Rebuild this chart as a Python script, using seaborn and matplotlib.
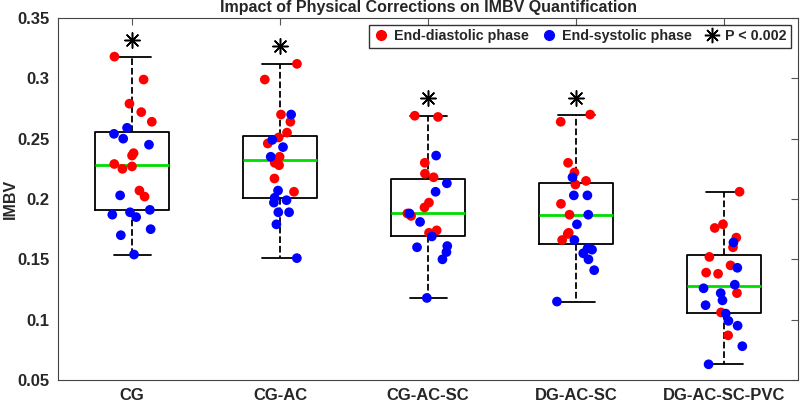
import numpy as np
import pandas as pd
import seaborn as sns
import matplotlib.pyplot as plt
from matplotlib.lines import Line2D

# categories and values
groups = ['CG', 'CG-AC', 'CG-AC-SC', 'DG-AC-SC', 'DG-AC-SC-PVC']

# end-diastolic phase (red)
ed_cg = [0.318, 0.299, 0.279, 0.272, 0.264, 0.238, 0.236, 0.229, 0.225, 0.227, 0.207, 0.202]
ed_cgac = [0.312, 0.299, 0.270, 0.264, 0.255, 0.251, 0.246, 0.235, 0.230, 0.228, 0.217, 0.206]
ed_cgacsc = [0.269, 0.268, 0.230, 0.221, 0.218, 0.197, 0.193, 0.188, 0.186, 0.174, 0.172]
ed_dgacsc = [0.270, 0.264, 0.230, 0.222, 0.215, 0.212, 0.196, 0.187, 0.172, 0.171, 0.166]
ed_pvc = [0.206, 0.176, 0.179, 0.168, 0.160, 0.152, 0.145, 0.139, 0.138, 0.122, 0.106, 0.087]

# end-systolic phase (blue)
es_cg = [0.259, 0.254, 0.250, 0.245, 0.203, 0.189, 0.191, 0.187, 0.185, 0.175, 0.170, 0.154]
es_cgac = [0.270, 0.249, 0.243, 0.235, 0.207, 0.197, 0.199, 0.201, 0.189, 0.189, 0.179, 0.151]
es_cgacsc = [0.236, 0.213, 0.206, 0.188, 0.181, 0.169, 0.160, 0.161, 0.156, 0.150, 0.118]
es_dgacsc = [0.218, 0.203, 0.203, 0.187, 0.179, 0.166, 0.159, 0.158, 0.155, 0.150, 0.141, 0.115]
es_pvc = [0.164, 0.143, 0.129, 0.126, 0.122, 0.116, 0.112, 0.105, 0.099, 0.095, 0.078, 0.063]

# significance markers
sig_groups = ['CG', 'CG-AC', 'CG-AC-SC', 'DG-AC-SC']
sig_vals = [0.332, 0.327, 0.284, 0.284]

ytick_vals = [0.05, 0.1, 0.15, 0.2, 0.25, 0.3, 0.35]
ytick_labels = ['0.05', '0.1', '0.15', '0.2', '0.25', '0.3', '0.35']

ed_phase = 'End-diastolic phase'
es_phase = 'End-systolic phase'

rows = []
for g, ed, es in zip(groups, [ed_cg, ed_cgac, ed_cgacsc, ed_dgacsc, ed_pvc],
                     [es_cg, es_cgac, es_cgacsc, es_dgacsc, es_pvc]):
    for v in ed:
        rows.append((g, ed_phase, v))
    for v in es:
        rows.append((g, es_phase, v))
df = pd.DataFrame(rows, columns=['group', 'phase', 'imbv'])

sns.set_theme(style='white')
plt.rcParams['font.family'] = ['Liberation Sans', 'DejaVu Sans']
plt.rcParams['font.weight'] = 'bold'

fig = plt.figure(figsize=(8, 4.04), dpi=100)
ax = fig.add_axes([58 / 800, 1 - 380 / 404, 740 / 800, 362 / 404])

sns.boxplot(data=df, x='group', y='imbv', order=groups, width=0.5, whis=1.5,
            showfliers=False, fill=False, color='black', linewidth=1.3,
            medianprops=dict(color='#00dd00', linewidth=2),
            whiskerprops=dict(linestyle='--'), ax=ax)

np.random.seed(7)
sns.stripplot(data=df, x='group', y='imbv', hue='phase', order=groups,
              palette={ed_phase: '#ff0000', es_phase: '#0000ff'},
              jitter=0.14, size=7, linewidth=0, legend=False, zorder=3, ax=ax)

sns.stripplot(x=sig_groups, y=sig_vals, order=groups, jitter=False, marker=(8, 2, 0),
              size=11, color='black', edgecolor='black', linewidth=1.1, zorder=4, ax=ax)

ax.set_xlim(-0.5, 4.5)
ax.set_ylim(0.05, 0.35)
ax.set_yticks(ytick_vals)
ax.set_yticklabels(ytick_labels)
ax.set_xlabel('')
ax.set_ylabel('IMBV', fontsize=11.5, fontweight='bold')
ax.yaxis.set_label_coords(-0.054, 0.5)
ax.set_title('Impact of Physical Corrections on IMBV Quantification',
             fontsize=11.5, fontweight='bold', pad=4)
ax.tick_params(direction='in', top=True, right=True, length=5, width=0.8,
               color='#555555', labelsize=12, pad=6)
for lab in ax.get_xticklabels() + ax.get_yticklabels():
    lab.set_fontweight('bold')
for sp in ax.spines.values():
    sp.set_color('#444444')
    sp.set_linewidth(0.8)

handles = [
    Line2D([], [], marker='o', color='#ff0000', linestyle='none', markersize=7),
    Line2D([], [], marker='o', color='#0000ff', linestyle='none', markersize=7),
    Line2D([], [], marker=(8, 2, 0), color='black', linestyle='none', markersize=11, markeredgewidth=1.1),
]
leg = ax.legend(handles, [ed_phase, es_phase, 'P < 0.002'], loc='upper right', ncol=3,
                fontsize=10.3, frameon=True, fancybox=False, edgecolor='black',
                handletextpad=0.3, columnspacing=0.8, handlelength=1.2,
                borderpad=0.3, borderaxespad=0.5)
leg.get_frame().set_linewidth(1)
for t in leg.get_texts():
    t.set_fontweight('bold')

fig.savefig('out.png', dpi=100)
